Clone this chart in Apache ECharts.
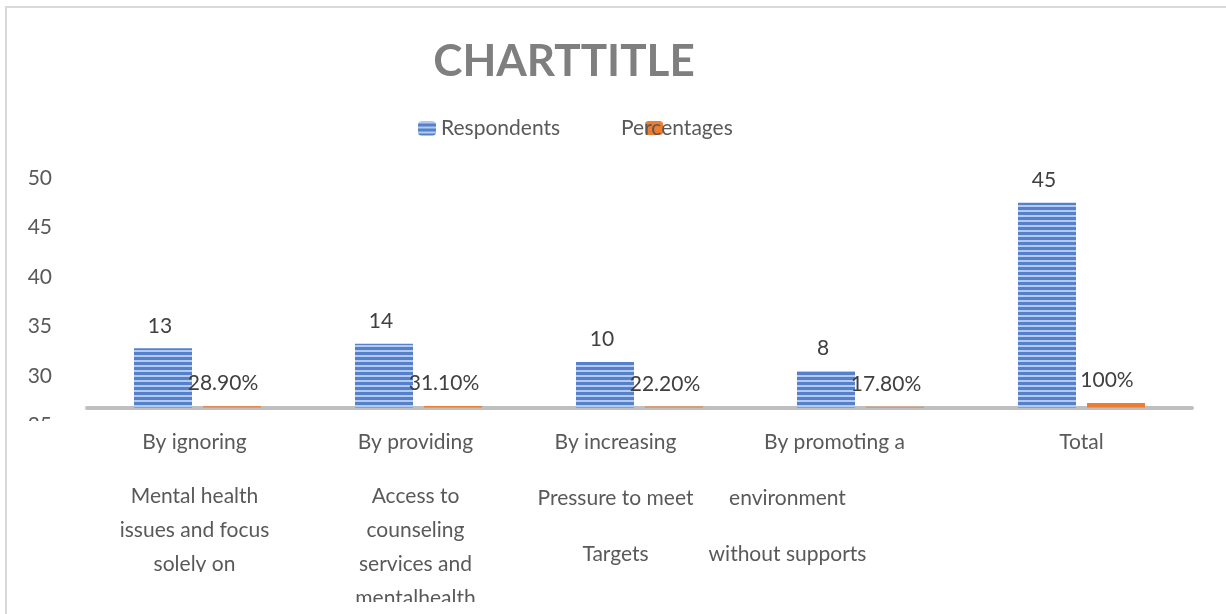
<!DOCTYPE html>
<html>
<head>
<meta charset="utf-8">
<title>CHARTTITLE</title>
<script src="https://cdn.jsdelivr.net/npm/echarts@6/dist/echarts.min.js"></script>
<style>
  html, body { margin: 0; padding: 0; background: #fff; }
  #chart { width: 1226px; height: 614px; }
</style>
</head>
<body>
<div id="chart"></div>
<script>
// categories as they are printed under the axis (line breaks kept)
var categories = [
  'By ignoring\nMental health\nissues and focus\nsolely on',
  'By providing\nAccess to\ncounseling\nservices and\nmentalhealth',
  'By increasing\nPressure to meet\nTargets',
  'By promoting a\nenvironment\nwithout supports',
  'Total'
];
var respondents = [13, 14, 10, 8, 45];
var percentages = [0.289, 0.311, 0.222, 0.178, 1];
// tick labels printed on the left axis
var yTickLabels = [25, 30, 35, 40, 45, 50];

window.onload = function() {
  var chart = echarts.init(document.getElementById('chart'));
  var font = 'Lato';
  var textColor = '#595959';
  var fs = 21;

  /* each label line is nudged left a little, like the Word text */
  var lineShift = [[3], [3], [24], [26, 73], [0]];
  var gapLine = [20, 20, 22, 22, 20];
  var rich = {};
  lineShift.forEach(function(arr) {
    arr.forEach(function(d) {
      rich['s' + d] = {
        fontFamily: font, fontSize: fs, color: textColor,
        lineHeight: 34, padding: [0, 2 * d, 0, 0]
      };
    });
  });
  gapLine.forEach(function(g) {
    rich['g' + g] = { fontSize: 1, lineHeight: g };
  });

  var option = {
    animation: false,
    backgroundColor: '#fff',
    title: {
      text: 'CHARTTITLE',
      left: 564,
      top: 40,
      padding: 0,
      textAlign: 'center',
      textStyle: { fontFamily: font, fontSize: 44, fontWeight: 'bold', color: '#7f7f7f' }
    },
    legend: [{
      data: ['Percentages'],
      formatter: function() { return ''; },
      left: 645, top: 121, padding: 0,
      itemWidth: 18, itemHeight: 14, z: 3,
      selectedMode: false
    }, {
      data: ['Respondents'],
      left: 418, top: 118, padding: 0,
      itemWidth: 18, itemHeight: 14,
      selectedMode: false,
      textStyle: { fontFamily: font, fontSize: fs, color: textColor }
    }, {
      data: [{ name: 'Percentages', icon: 'none' }],
      left: 616, top: 118, padding: 0,
      itemWidth: 0, itemHeight: 14, z: 5,
      selectedMode: false,
      textStyle: { fontFamily: font, fontSize: fs, color: textColor }
    }],
    grid: [
      { left: 87, right: 34, top: 180, bottom: 206.5 },
      { left: 87, right: 34, top: 178, bottom: 188.5 }
    ],
    xAxis: [{
      type: 'category',
      gridIndex: 0,
      data: categories,
      offset: 2,
      axisLine: { lineStyle: { color: '#bfbfbf', width: 4 } },
      axisTick: { show: false },
      axisLabel: {
        interval: 0,
        margin: 16,
        formatter: function(value, i) {
          var lines = value.split('\n');
          var sh = lineShift[i];
          var out = [];
          lines.forEach(function(s, k) {
            if (k > 0 && (k == 1 || i == 2 || i == 3)) out.push('{g' + gapLine[i] + '| }');
            out.push('{s' + sh[Math.min(k, sh.length - 1)] + '|' + s + '}');
          });
          return out.join('\n');
        },
        rich: rich
      }
    }, {
      type: 'value',
      gridIndex: 1,
      show: false
    }],
    yAxis: [{
      type: 'value',
      gridIndex: 0,
      min: 0,
      max: 50,
      show: false
    }, {
      type: 'value',
      gridIndex: 1,
      min: yTickLabels[0],
      max: yTickLabels[yTickLabels.length - 1],
      interval: yTickLabels[1] - yTickLabels[0],
      axisLine: { show: false },
      axisTick: { show: false },
      splitLine: { show: false },
      axisLabel: { margin: 35, fontFamily: font, fontSize: fs, color: textColor }
    }],
    series: [{
      name: 'Respondents',
      type: 'bar',
      xAxisIndex: 0,
      yAxisIndex: 0,
      data: respondents,
      barWidth: 58,
      barGap: '19%',
      itemStyle: {
        color: '#5580cc',
        decal: {
          symbol: 'rect',
          symbolSize: 1,
          color: 'rgba(214,228,250,0.75)',
          dashArrayX: [1, 0],
          dashArrayY: [2, 3],
          rotation: 0
        }
      },
      label: {
        show: true,
        position: 'top',
        distance: 12,
        offset: [-3, 0],
        fontFamily: font,
        fontSize: fs,
        color: '#404040'
      }
    }, {
      name: 'Percentages',
      type: 'bar',
      xAxisIndex: 0,
      yAxisIndex: 0,
      data: percentages,
      barWidth: 58,
      itemStyle: { color: '#ed7d31' },
      label: {
        show: true,
        position: 'top',
        distance: 12,
        offset: [-9, 0],
        fontFamily: font,
        fontSize: fs,
        color: '#404040',
        formatter: function(p) {
          var v = p.value * 100;
          return (Math.round(v) == v ? v : v.toFixed(2)) + '%';
        }
      }
    }],
    graphic: [
      // chart border (top and left only are visible)
      { type: 'line', shape: { x1: 6, y1: 7, x2: 1226, y2: 7 }, style: { stroke: '#d9d9d9', lineWidth: 2 } },
      { type: 'line', shape: { x1: 6, y1: 6, x2: 6, y2: 614 }, style: { stroke: '#d9d9d9', lineWidth: 2 } },
      // cut-offs like the original picture
      { type: 'rect', z: 100, shape: { x: 10, y: 421, width: 70, height: 20 }, style: { fill: '#fff' } },
      { type: 'rect', z: 100, shape: { x: 115, y: 572, width: 165, height: 42 }, style: { fill: '#fff' } },
      { type: 'rect', z: 100, shape: { x: 330, y: 602, width: 175, height: 12 }, style: { fill: '#fff' } }
    ]
  };
  chart.setOption(option);
};
</script>
</body>
</html>
